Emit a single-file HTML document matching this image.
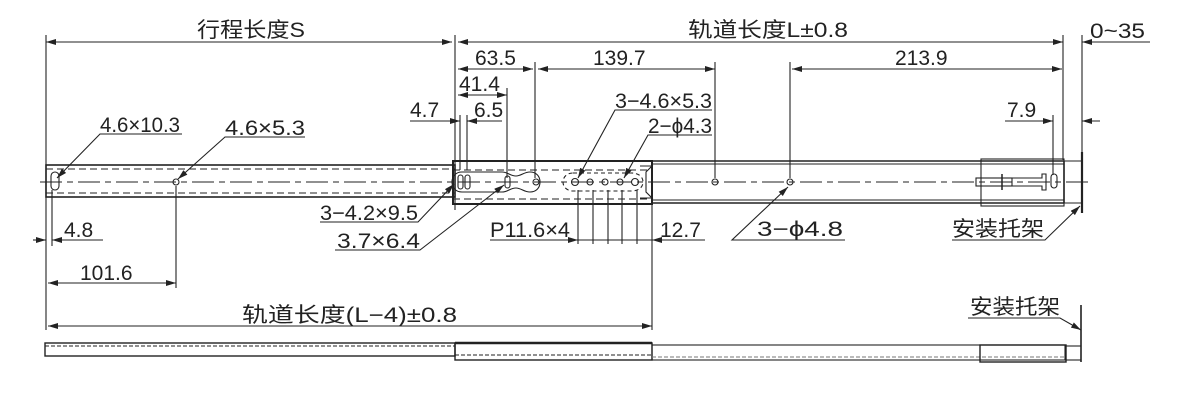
<!DOCTYPE html>
<html><head><meta charset="utf-8"><style>
html,body{margin:0;padding:0;background:#fff;}
svg text{font-family:"Liberation Sans","Noto Sans CJK SC",sans-serif;fill:#222;}
</style></head><body>
<svg width="1201" height="400" viewBox="0 0 1201 400" xmlns="http://www.w3.org/2000/svg">
<defs>
<marker id="a" markerWidth="10" markerHeight="6" refX="10" refY="3" orient="auto" markerUnits="userSpaceOnUse"><path d="M0,0 L10,3 L0,6 z" fill="#222"/></marker>
<marker id="b" markerWidth="10" markerHeight="6" refX="0" refY="3" orient="auto" markerUnits="userSpaceOnUse"><path d="M10,0 L0,3 L10,6 z" fill="#222"/></marker>
</defs>
<g stroke="#222" stroke-width="1.1" fill="none">
<line x1="46" y1="35" x2="46" y2="330"/>
<line x1="52" y1="190" x2="52" y2="246"/>
<line x1="176" y1="186" x2="176" y2="288"/>
<line x1="455" y1="35" x2="455" y2="210"/>
<line x1="460" y1="115" x2="460" y2="170"/>
<line x1="467" y1="115" x2="467" y2="170"/>
<line x1="507" y1="88" x2="507" y2="178"/>
<line x1="535" y1="62" x2="535" y2="178"/>
<line x1="715" y1="62" x2="715" y2="178"/>
<line x1="790" y1="62" x2="790" y2="178"/>
<line x1="652" y1="200" x2="652" y2="330"/>
<line x1="1053" y1="115" x2="1053" y2="175"/>
<line x1="1063" y1="35" x2="1063" y2="160"/>
<line x1="1082" y1="35" x2="1082" y2="155"/>
<line x1="46" y1="42" x2="452" y2="42" marker-start="url(#b)" marker-end="url(#a)"/>
<line x1="458" y1="42" x2="1063" y2="42" marker-start="url(#b)" marker-end="url(#a)"/>
<line x1="1100" y1="42" x2="1082" y2="42" marker-end="url(#a)"/>
<line x1="1082" y1="42" x2="1150" y2="42"/>
<line x1="458" y1="69" x2="533" y2="69" marker-start="url(#b)" marker-end="url(#a)"/>
<line x1="538" y1="69" x2="715" y2="69" marker-start="url(#b)" marker-end="url(#a)"/>
<line x1="792" y1="69" x2="1062" y2="69" marker-start="url(#b)" marker-end="url(#a)"/>
<line x1="458" y1="95" x2="507" y2="95" marker-start="url(#b)" marker-end="url(#a)"/>
<line x1="410" y1="121" x2="460" y2="121" marker-end="url(#a)"/>
<line x1="480" y1="121" x2="467" y2="121" marker-end="url(#a)"/>
<line x1="467" y1="121" x2="502" y2="121"/>
<line x1="1005" y1="121" x2="1053" y2="121" marker-end="url(#a)"/>
<line x1="1100" y1="121" x2="1082" y2="121" marker-end="url(#a)"/>
<line x1="33" y1="240" x2="46" y2="240" marker-end="url(#a)"/>
<line x1="80" y1="240" x2="52" y2="240" marker-end="url(#a)"/>
<line x1="52" y1="240" x2="103" y2="240"/>
<line x1="48" y1="283" x2="176" y2="283" marker-start="url(#b)" marker-end="url(#a)"/>
<line x1="48" y1="326" x2="652" y2="326" marker-start="url(#b)" marker-end="url(#a)"/>
<line x1="578" y1="190" x2="578" y2="244"/>
<line x1="593" y1="190" x2="593" y2="244"/>
<line x1="608" y1="190" x2="608" y2="244"/>
<line x1="622" y1="190" x2="622" y2="244"/>
<line x1="637" y1="190" x2="637" y2="244"/>
<line x1="490" y1="240" x2="578" y2="240" marker-end="url(#a)"/>
<line x1="578" y1="240" x2="652" y2="240"/>
<line x1="705" y1="240" x2="652" y2="240" marker-end="url(#a)"/>
<polyline points="182,134 100,134 57,178" marker-end="url(#a)"/>
<polyline points="305,137 225,137 178,179" marker-end="url(#a)"/>
<polyline points="712,110 615,110 578,178" marker-end="url(#a)"/>
<polyline points="712,135 648,135 624,178" marker-end="url(#a)"/>
<polyline points="320,222 418,222 454,184" marker-end="url(#a)"/>
<polyline points="335,250 420,250 504,185" marker-end="url(#a)"/>
<polyline points="845,240 732,240 788,187" marker-end="url(#a)"/>
<polyline points="952,240 1045,240 1080,206" marker-end="url(#a)"/>
<polyline points="968,318 1060,318 1081,330" marker-end="url(#a)"/>
<rect x="46" y="165" width="409" height="32" stroke-width="1.6"/>
<line x1="46" y1="169" x2="455" y2="169" stroke-dasharray="7,4"/>
<line x1="46" y1="193" x2="455" y2="193" stroke-dasharray="7,4"/>
<rect x="453" y="161" width="199" height="43" stroke-width="2"/>
<line x1="453" y1="170" x2="652" y2="170" stroke-dasharray="7,4"/>
<line x1="453" y1="199" x2="652" y2="199" stroke-dasharray="7,4"/>
<line x1="652" y1="161" x2="1064" y2="161" stroke-width="1.6"/>
<line x1="652" y1="164" x2="1064" y2="164"/>
<line x1="652" y1="200" x2="1064" y2="200"/>
<line x1="652" y1="203" x2="1064" y2="203" stroke-width="1.6"/>
<line x1="1064" y1="161" x2="1064" y2="203" stroke-width="1.6"/>
<line x1="1064" y1="161" x2="1082" y2="161"/>
<line x1="1064" y1="203" x2="1082" y2="203"/>
<rect x="981" y="159" width="83" height="47"/>
<line x1="1082" y1="152" x2="1082" y2="213" stroke-width="2.2"/>
<line x1="40" y1="182" x2="1090" y2="182" stroke-dasharray="22,5,6,5"/>
<rect x="51" y="172" width="8" height="18" rx="4"/>
<circle cx="176" cy="182" r="3"/>
<path d="M462,172 h40 c6,0 8,4 14,4 c5,0 8,-4 14,-4 c6,0 10,4 10,10 c0,6 -4,10 -10,10 c-6,0 -9,-4 -14,-4 c-6,0 -8,4 -14,4 h-40 c-6,0 -10,-4 -10,-10 c0,-6 4,-10 10,-10 z"/>
<rect x="458" y="175" width="5" height="14" rx="2.5"/>
<rect x="465" y="175" width="5" height="14" rx="2.5"/>
<rect x="505" y="176" width="5" height="12" rx="2.5"/>
<circle cx="536" cy="182" r="3"/>
<path d="M573,173 h58 c8,0 12,4 12,9 c0,5 -4,9 -12,9 h-58 c-6,0 -10,-4 -10,-9 c0,-5 4,-9 10,-9 z" stroke-dasharray="4,3"/>
<circle cx="575" cy="182" r="3.5"/><circle cx="590" cy="182" r="3"/><circle cx="605" cy="182" r="3"/><circle cx="620" cy="182" r="3"/><circle cx="635" cy="182" r="3.5"/>
<path d="M640,166 h12 l-6,6 v20 l6,6 h-12"/>
<circle cx="715" cy="182" r="3"/>
<circle cx="790" cy="182" r="3"/>
<rect x="976" y="178" width="36" height="8"/>
<line x1="1002" y1="174" x2="1002" y2="190" stroke-width="1.5"/>
<path d="M1012,178 h30 v-4 h4 v16 h-4 v-4 h-30"/>
<rect x="1051" y="174" width="6" height="14" rx="3"/>
<rect x="45" y="343" width="410" height="13" stroke-width="1.4"/>
<line x1="45" y1="346" x2="455" y2="346" stroke-dasharray="4,2"/>
<rect x="455" y="343" width="197" height="17" stroke-width="1.4"/>
<line x1="455" y1="343" x2="652" y2="343" stroke-width="2.5"/>
<line x1="455" y1="355" x2="652" y2="355" stroke-dasharray="4,2"/>
<rect x="652" y="345" width="413" height="15"/>
<line x1="652" y1="357" x2="1065" y2="357" stroke-dasharray="4,2" stroke="#777"/>
<rect x="980" y="345" width="86" height="17" stroke-width="1.4"/>
<line x1="1066" y1="346" x2="1081" y2="346"/>
<line x1="1066" y1="360" x2="1081" y2="360"/>
<line x1="1081" y1="305" x2="1081" y2="362" stroke-width="1.6"/>
</g>
<g font-size="21">
<text x="197" y="37" textLength="108" lengthAdjust="spacingAndGlyphs">行程长度S</text>
<text x="688" y="37" textLength="160" lengthAdjust="spacingAndGlyphs">轨道长度L±0.8</text>
<text x="1090" y="38" textLength="55" lengthAdjust="spacingAndGlyphs">0~35</text>
<text x="475" y="65">63.5</text>
<text x="593" y="65">139.7</text>
<text x="895" y="65">213.9</text>
<text x="459" y="91">41.4</text>
<text x="410" y="117">4.7</text>
<text x="474" y="117">6.5</text>
<text x="1007" y="117">7.9</text>
<text x="100" y="132" textLength="80" lengthAdjust="spacingAndGlyphs">4.6×10.3</text>
<text x="225" y="135" textLength="80" lengthAdjust="spacingAndGlyphs">4.6×5.3</text>
<text x="615" y="108" textLength="97" lengthAdjust="spacingAndGlyphs">3−4.6×5.3</text>
<text x="648" y="133" textLength="64" lengthAdjust="spacingAndGlyphs">2−ϕ4.3</text>
<text x="320" y="220" textLength="98" lengthAdjust="spacingAndGlyphs">3−4.2×9.5</text>
<text x="337" y="248" textLength="83" lengthAdjust="spacingAndGlyphs">3.7×6.4</text>
<text x="490" y="237" textLength="80" lengthAdjust="spacingAndGlyphs">P11.6×4</text>
<text x="660" y="237">12.7</text>
<text x="757" y="236" textLength="86" lengthAdjust="spacingAndGlyphs">3−ϕ4.8</text>
<text x="952" y="236" textLength="92" lengthAdjust="spacingAndGlyphs">安装托架</text>
<text x="64" y="237">4.8</text>
<text x="80" y="280">101.6</text>
<text x="242" y="322" textLength="215" lengthAdjust="spacingAndGlyphs">轨道长度(L−4)±0.8</text>
<text x="970" y="314" textLength="90" lengthAdjust="spacingAndGlyphs">安装托架</text>
</g>
</svg>
</body></html>
